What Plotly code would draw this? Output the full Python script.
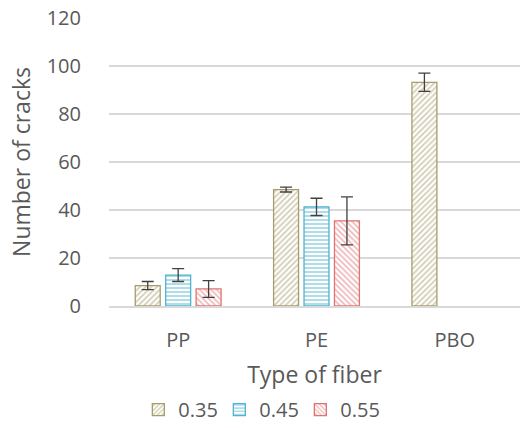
import plotly.graph_objects as go

categories = ["PP", "PE", "PBO"]
series_names = ["0.35", "0.45", "0.55"]
v035 = [8.5, 48.5, 93.2]
e035 = [1.7, 1.0, 3.8]
v045 = [12.9, 41.3, None]
e045 = [2.7, 3.6, None]
v055 = [7.1, 35.5, None]
e055 = [3.5, 10.0, None]

colors = ["#A89C6C", "#4FB3D1", "#E07474"]
shapes = ["/", "-", "\\"]
values = [v035, v045, v055]
errors = [e035, e045, e055]

fig = go.Figure()
for name, v, e, c, s in zip(series_names, values, errors, colors, shapes):
    fig.add_trace(go.Bar(
        x=categories, y=v, name=name,
        marker=dict(color="white", line=dict(color=c, width=1.3),
                    pattern=dict(shape=s, fgcolor=c, bgcolor="white", size=4, solidity=0.45)),
        error_y=dict(type="data", array=e, visible=True, color="#404040", thickness=1.3, width=6),
    ))

fig.update_layout(
    width=520, height=428,
    margin=dict(l=109, r=0, t=18, b=122, autoexpand=False),
    paper_bgcolor="white", plot_bgcolor="white",
    barmode="group", bargap=0.34, bargroupgap=0.18,
    font=dict(family="Open Sans, Calibri, sans-serif", color="#595959", size=20),
    showlegend=True,
    legend=dict(orientation="h", x=0.367, xanchor="center", y=-0.36, yanchor="middle",
                font=dict(size=20, color="#595959"), itemwidth=30, traceorder="normal",
                entrywidth=36, entrywidthmode="pixels"),
    xaxis=dict(range=[-0.5, 2.471], title=dict(text="Type of fiber", font=dict(size=23), standoff=15),
               showgrid=False, showline=True, linecolor="#d9d9d9", linewidth=1.5,
               ticks="", ticklabelstandoff=15, tickfont=dict(size=20), tickangle=0),
    yaxis=dict(range=[0, 120], dtick=20, showgrid=True, gridcolor="#d9d9d9", gridwidth=1.5,
               zeroline=False, ticks="", ticklabelstandoff=27, tickfont=dict(size=20),
               title=dict(text="Number of cracks", font=dict(size=23), standoff=9)),
)

fig.write_html("out.html")
